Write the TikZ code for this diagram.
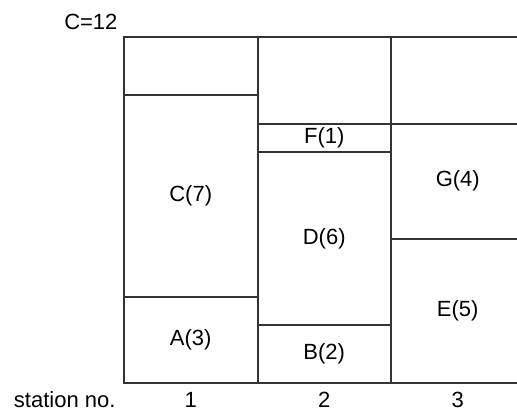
\documentclass[tikz,border=0pt]{standalone}
\usepackage{fontspec}
\setmainfont{Liberation Sans}
\usetikzlibrary{positioning}

\newcommand{\unitht}{28.83pt}
\newcommand{\colwd}{133.5pt}

\begin{document}
\begin{tikzpicture}[x=1pt,y=1pt,
    box/.style={draw=black!80, line width=2pt, outer sep=0pt, inner sep=0pt,
                minimum width=\colwd, font=\fontsize{22}{26}\selectfont},
    lbl/.style={font=\fontsize{22}{26}\selectfont}]
      \clip (-124,-31) rectangle (393,383);
      % station 1
      \node[box, minimum height=3*\unitht, anchor=south west] (A) at (0,0) {A(3)};
      \node[box, minimum height=7*\unitht, above=0pt of A] (C) {C(7)};
      \node[box, minimum height=2*\unitht, above=0pt of C] (idle1) {};
      % station 2
      \node[box, minimum height=2*\unitht, anchor=south west] (B) at (A.south east) {B(2)};
      \node[box, minimum height=6*\unitht, above=0pt of B] (D) {D(6)};
      \node[box, minimum height=1*\unitht, above=0pt of D] (F) {F(1)};
      \node[box, minimum height=3*\unitht, above=0pt of F] (idle2) {};
      % station 3
      \node[box, minimum height=5*\unitht, anchor=south west] (E) at (B.south east) {E(5)};
      \node[box, minimum height=4*\unitht, above=0pt of E] (G) {G(4)};
      \node[box, minimum height=3*\unitht, above=0pt of G] (idle3) {};
      % labels
      \node[lbl, anchor=base east] (cap) at (-3,353) {C=12};
      \node[lbl, anchor=base east] (station) at (-5,-25) {station no.};
      \foreach \col/\num in {A/1, B/2, E/3}
        \node[lbl, anchor=base] (no\num) at (\col.south |- station.base) {\num};
    \end{tikzpicture}
\end{document}
